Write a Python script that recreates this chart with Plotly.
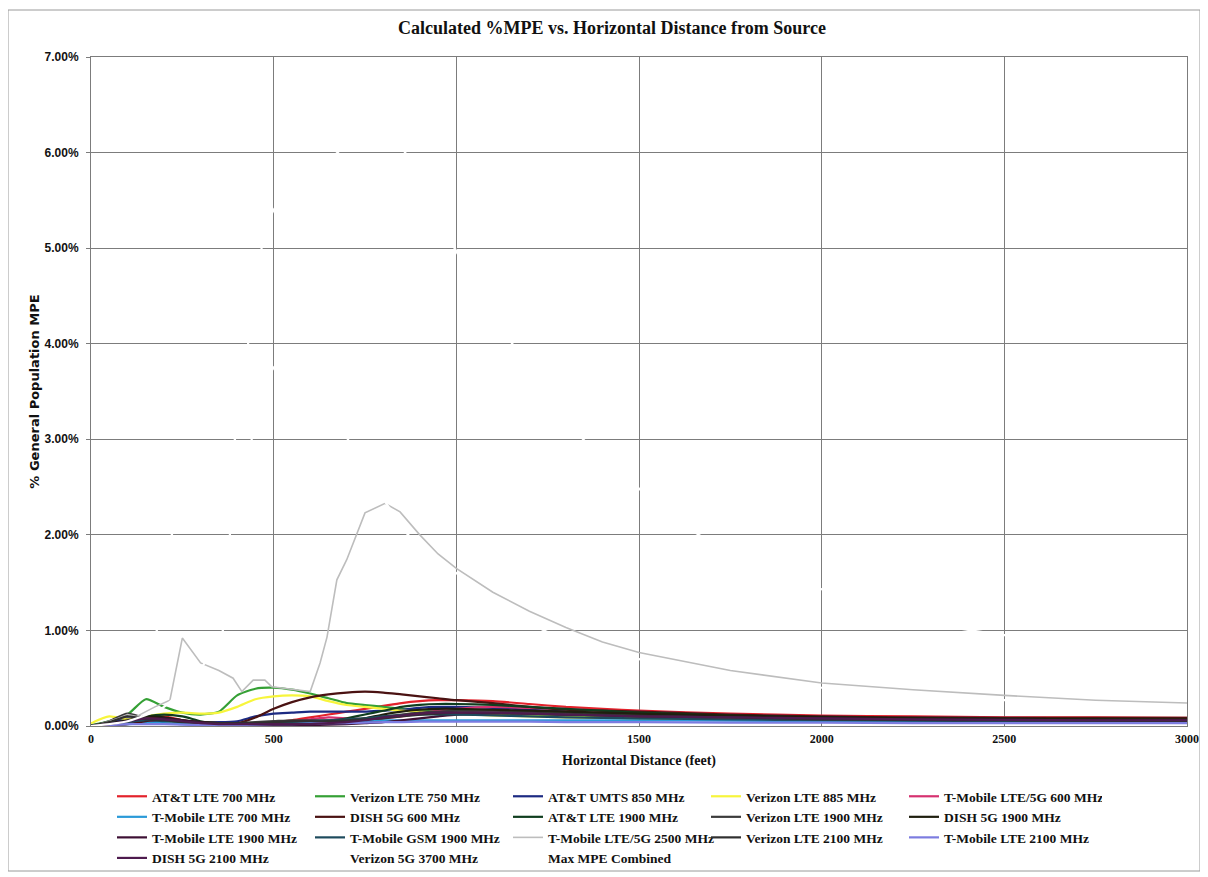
import plotly.graph_objects as go

# ---------------- data (values in percent of MPE) ----------------
DIST = [0, 50, 100, 150, 200, 250, 300, 350, 400, 450, 500, 550, 600, 650, 700, 750,
        800, 850, 900, 950, 1000, 1100, 1200, 1300, 1400, 1500, 1750, 2000, 2250, 2500, 2750, 3000]

att_lte_700 = [0.01, 0.02, 0.03, 0.08, 0.10, 0.06, 0.03, 0.02, 0.02, 0.03, 0.04, 0.06, 0.09, 0.12, 0.15, 0.18,
               0.21, 0.24, 0.26, 0.27, 0.27, 0.26, 0.23, 0.20, 0.18, 0.16, 0.13, 0.11, 0.10, 0.09, 0.09, 0.085]
vzw_lte_750 = [0.01, 0.05, 0.12, 0.28, 0.20, 0.14, 0.12, 0.15, 0.32, 0.39, 0.40, 0.38, 0.34, 0.29, 0.24, 0.22,
               0.20, 0.18, 0.16, 0.15, 0.14, 0.12, 0.11, 0.10, 0.09, 0.08, 0.07, 0.06, 0.055, 0.05, 0.045, 0.04]
att_umts_850 = [0.0, 0.03, 0.08, 0.05, 0.06, 0.05, 0.04, 0.04, 0.05, 0.10, 0.13, 0.14, 0.15, 0.15, 0.15, 0.15,
                0.16, 0.17, 0.19, 0.20, 0.20, 0.19, 0.17, 0.15, 0.13, 0.12, 0.10, 0.08, 0.07, 0.065, 0.06, 0.055]
vzw_lte_885 = [0.03, 0.10, 0.07, 0.10, 0.13, 0.14, 0.13, 0.14, 0.20, 0.28, 0.31, 0.32, 0.31, 0.26, 0.22, 0.20,
               0.18, 0.16, 0.15, 0.14, 0.13, 0.11, 0.10, 0.09, 0.085, 0.08, 0.07, 0.06, 0.055, 0.05, 0.045, 0.04]
tmo_lte5g_600 = [0.0, 0.01, 0.03, 0.05, 0.07, 0.05, 0.03, 0.02, 0.02, 0.03, 0.04, 0.05, 0.07, 0.09, 0.08, 0.07,
                 0.08, 0.10, 0.13, 0.16, 0.18, 0.20, 0.19, 0.18, 0.16, 0.15, 0.12, 0.10, 0.09, 0.085, 0.08, 0.08]
tmo_lte_700 = [0.0, 0.01, 0.02, 0.03, 0.03, 0.02, 0.01, 0.01, 0.02, 0.02, 0.03, 0.03, 0.04, 0.04, 0.05, 0.05,
               0.06, 0.06, 0.06, 0.06, 0.06, 0.06, 0.06, 0.06, 0.06, 0.06, 0.055, 0.05, 0.045, 0.045, 0.04, 0.04]
dish_5g_600 = [0.0, 0.01, 0.02, 0.05, 0.08, 0.06, 0.04, 0.03, 0.03, 0.09, 0.18, 0.25, 0.30, 0.33, 0.35, 0.36,
               0.35, 0.33, 0.31, 0.29, 0.27, 0.24, 0.20, 0.17, 0.16, 0.15, 0.12, 0.10, 0.09, 0.085, 0.085, 0.085]
att_lte_1900 = [0.0, 0.02, 0.05, 0.10, 0.12, 0.10, 0.05, 0.02, 0.01, 0.01, 0.01, 0.01, 0.02, 0.04, 0.08, 0.12,
                0.16, 0.20, 0.22, 0.23, 0.23, 0.22, 0.20, 0.18, 0.16, 0.14, 0.11, 0.09, 0.08, 0.075, 0.07, 0.065]
vzw_lte_1900 = [0.0, 0.05, 0.13, 0.08, 0.07, 0.05, 0.04, 0.03, 0.03, 0.04, 0.05, 0.06, 0.06, 0.06, 0.07, 0.08,
                0.10, 0.12, 0.14, 0.15, 0.16, 0.16, 0.15, 0.14, 0.13, 0.12, 0.10, 0.08, 0.07, 0.065, 0.06, 0.055]
dish_5g_1900 = [0.0, 0.03, 0.06, 0.10, 0.09, 0.06, 0.04, 0.03, 0.02, 0.02, 0.02, 0.02, 0.02, 0.03, 0.05, 0.08,
                0.12, 0.15, 0.17, 0.18, 0.18, 0.17, 0.16, 0.15, 0.14, 0.13, 0.11, 0.09, 0.08, 0.075, 0.07, 0.065]
tmo_lte_1900 = [0.0, 0.02, 0.05, 0.07, 0.08, 0.06, 0.04, 0.02, 0.01, 0.01, 0.01, 0.01, 0.01, 0.015, 0.02, 0.03,
                0.04, 0.06, 0.08, 0.10, 0.12, 0.13, 0.13, 0.12, 0.11, 0.10, 0.09, 0.08, 0.07, 0.065, 0.06, 0.06]
tmo_gsm_1900 = [0.0, 0.02, 0.04, 0.06, 0.05, 0.04, 0.03, 0.02, 0.02, 0.02, 0.03, 0.04, 0.05, 0.06, 0.07, 0.08,
                0.10, 0.11, 0.12, 0.12, 0.12, 0.11, 0.10, 0.09, 0.085, 0.08, 0.07, 0.06, 0.055, 0.05, 0.05, 0.045]
vzw_lte_2100 = [0.0, 0.04, 0.10, 0.07, 0.06, 0.04, 0.03, 0.03, 0.03, 0.03, 0.04, 0.05, 0.05, 0.05, 0.06, 0.07,
                0.08, 0.10, 0.12, 0.13, 0.14, 0.14, 0.13, 0.12, 0.11, 0.10, 0.09, 0.07, 0.065, 0.06, 0.055, 0.05]
tmo_lte_2100 = [0.0, 0.01, 0.02, 0.02, 0.02, 0.015, 0.01, 0.01, 0.01, 0.015, 0.02, 0.02, 0.025, 0.03, 0.03, 0.035,
                0.04, 0.04, 0.045, 0.045, 0.045, 0.045, 0.045, 0.04, 0.04, 0.04, 0.035, 0.035, 0.03, 0.03, 0.03, 0.03]
dish_5g_2100 = [0.0, 0.02, 0.05, 0.08, 0.07, 0.05, 0.03, 0.02, 0.02, 0.02, 0.02, 0.02, 0.02, 0.03, 0.04, 0.06,
                0.09, 0.11, 0.13, 0.14, 0.14, 0.14, 0.13, 0.12, 0.11, 0.10, 0.09, 0.08, 0.07, 0.065, 0.06, 0.06]

TMO2500_X = [0, 25, 50, 75, 100, 125, 150, 175, 216, 250, 300, 350, 389, 413, 444, 476, 495, 550, 600, 627,
             646, 673, 700, 750, 805, 846, 900, 950, 1000, 1100, 1200, 1300, 1400, 1500, 1750, 2000, 2250,
             2500, 2750, 3000]
tmo_lte5g_2500 = [0.0, 0.02, 0.05, 0.08, 0.12, 0.10, 0.15, 0.20, 0.27, 0.92, 0.66, 0.58, 0.50, 0.36, 0.48, 0.48,
                  0.41, 0.38, 0.36, 0.66, 0.93, 1.53, 1.74, 2.23, 2.33, 2.24, 2.00, 1.80, 1.65, 1.40, 1.20, 1.03,
                  0.88, 0.77, 0.58, 0.45, 0.38, 0.32, 0.27, 0.24]

VZW3700_X = [0, 100, 200, 300, 361, 380, 440, 500, 570, 640, 703, 780, 868, 1000, 1240, 1500, 2000, 2500, 3000]
vzw_5g_3700 = [0.0, 0.05, 0.2, 0.6, 1.0, 2.0, 3.0, 3.75, 3.9, 3.6, 3.0, 2.5, 2.0, 1.6, 1.0, 0.7, 0.4, 0.27, 0.19]

MAX_X = [0, 100, 200, 221, 300, 394, 430, 467, 500, 600, 675, 760, 860, 995, 1153, 1347, 1495, 1664, 2000,
         2350, 2500, 3000]
max_combined = [0.05, 0.4, 1.2, 2.0, 2.5, 3.0, 4.0, 5.0, 5.4, 5.8, 6.0, 6.5, 6.0, 5.0, 4.0, 3.0, 2.5, 2.0, 1.43,
                1.04, 0.95, 0.68]

SERIES = [
    ("AT&T LTE 700 MHz", DIST, att_lte_700, "#e3222b"),
    ("Verizon LTE 750 MHz", DIST, vzw_lte_750, "#35a035"),
    ("AT&T UMTS 850 MHz", DIST, att_umts_850, "#1c2a82"),
    ("Verizon LTE 885 MHz", DIST, vzw_lte_885, "#f7f53c"),
    ("T-Mobile LTE/5G 600 MHz", DIST, tmo_lte5g_600, "#d63270"),
    ("T-Mobile LTE 700 MHz", DIST, tmo_lte_700, "#2a9ad8"),
    ("DISH 5G 600 MHz", DIST, dish_5g_600, "#4a1212"),
    ("AT&T LTE 1900 MHz", DIST, att_lte_1900, "#103e1f"),
    ("Verizon LTE 1900 MHz", DIST, vzw_lte_1900, "#3b3b3b"),
    ("DISH 5G 1900 MHz", DIST, dish_5g_1900, "#1f1f0f"),
    ("T-Mobile LTE 1900 MHz", DIST, tmo_lte_1900, "#3d1034"),
    ("T-Mobile GSM 1900 MHz", DIST, tmo_gsm_1900, "#1e4b5d"),
    ("T-Mobile LTE/5G 2500 MHz", TMO2500_X, tmo_lte5g_2500, "#bdbdbd"),
    ("Verizon LTE 2100 MHz", DIST, vzw_lte_2100, "#303030"),
    ("T-Mobile LTE 2100 MHz", DIST, tmo_lte_2100, "#7c7ce0"),
    ("DISH 5G 2100 MHz", DIST, dish_5g_2100, "#4e1b4e"),
    ("Verizon 5G 3700 MHz", VZW3700_X, vzw_5g_3700, "#ffffff"),
    ("Max MPE Combined", MAX_X, max_combined, "#ffffff"),
]

Y_TICKS = [0, 1, 2, 3, 4, 5, 6, 7]
X_TICKS = [0, 500, 1000, 1500, 2000, 2500, 3000]

SERIF = "Liberation Serif"
SANS = "Liberation Sans"

fig = go.Figure()
for name, xs, ys, col in SERIES:
    smooth = name != "T-Mobile LTE/5G 2500 MHz"
    fig.add_trace(go.Scatter(
        x=xs, y=[v / 100 for v in ys], name=name, mode="lines",
        line=dict(color=col, width=1.6 if not smooth else 2.2,
                  shape="spline" if smooth else "linear", smoothing=0.6 if smooth else None),
    ))

# page has an 8px body margin: figure is drawn 8px right/down of the page origin
OFF = 8
W, H = 1200, 869
L, R, T, B = 83, 21, 49, 151
pw, ph = W - L - R, H - T - B


def px_x(page_x):
    return (page_x - OFF - L) / pw


def px_y(page_y):
    return (T + ph - (page_y - OFF)) / ph


fig.update_layout(
    width=W, height=H,
    margin=dict(l=L, r=R, t=T, b=B, pad=0, autoexpand=False),
    paper_bgcolor="white", plot_bgcolor="white",
    title=dict(text="<b>Calculated %MPE vs. Horizontal Distance from Source</b>",
               x=px_x(612), xref="paper", xanchor="center",
               y=1 - (28 - OFF) / H, yanchor="middle",
               font=dict(family=SERIF, size=18, color="#111")),
    xaxis=dict(range=[0, 3000], tickvals=X_TICKS, ticktext=[str(v) for v in X_TICKS],
               automargin=False,
               showgrid=True, gridcolor="#7c7c7c", gridwidth=1,
               showline=True, linecolor="#7c7c7c", linewidth=1, mirror=True,
               zeroline=False, ticks="", ticklabelstandoff=2,
               tickfont=dict(family=SERIF, size=12, color="#111", weight="bold"),
               title=dict(text="<b>Horizontal Distance (feet)</b>", standoff=9,
                          font=dict(family=SERIF, size=14, color="#111"))),
    yaxis=dict(range=[0, 0.07], tickvals=[v / 100 for v in Y_TICKS], tickformat=".2%",
               automargin=False,
               showgrid=True, gridcolor="#7c7c7c", gridwidth=1,
               showline=True, linecolor="#7c7c7c", linewidth=1, mirror=True,
               zeroline=False, ticks="outside", ticklen=4, tickcolor="#7c7c7c",
               ticklabelstandoff=5,
               tickfont=dict(family=SANS, size=12, color="#111", weight="bold"),
               title=dict(text="<b>% General Population MPE</b>", standoff=2,
                          font=dict(family="DejaVu Sans", size=13, color="#111"))),
    showlegend=True,
    legend=dict(orientation="h", x=px_x(112), xanchor="left",
                y=px_y(781), yanchor="top",
                entrywidth=153, entrywidthmode="pixels", tracegroupgap=0,
                itemwidth=30, traceorder="normal",
                font=dict(family=SERIF, size=13.5, color="#111", weight="bold"),
                bgcolor="rgba(0,0,0,0)"),
    shapes=[dict(type="rect", xref="paper", yref="paper",
                 x0=px_x(8), x1=px_x(1200),
                 y0=px_y(871), y1=px_y(10),
                 line=dict(color="#9a9a9a", width=1), fillcolor="rgba(0,0,0,0)", layer="below")],
)

fig.write_html("out.html")
